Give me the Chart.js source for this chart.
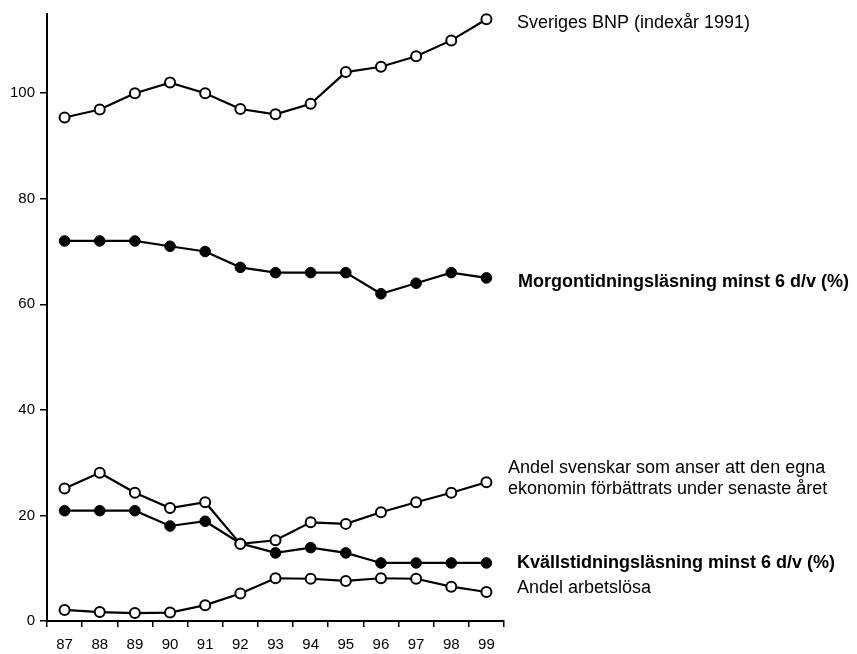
<!DOCTYPE html>
<html>
<head>
<meta charset="utf-8">
<script src="https://cdn.jsdelivr.net/npm/chart.js@4/dist/chart.umd.min.js"></script>
<style>
  html, body { margin: 0; padding: 0; background: #fff; }
  canvas { display: block; }
</style>
</head>
<body>
<canvas id="chart" width="857" height="654"></canvas>
<script>
// Years 1987-1999
const years = ["87", "88", "89", "90", "91", "92", "93", "94", "95", "96", "97", "98", "99"];

const bnp = [95.4, 96.9, 100, 102, 100, 97, 96, 98, 104, 105, 107, 110, 114];
const morgon = [72, 72, 72, 71, 70, 67, 66, 66, 66, 62, 64, 66, 65];
const ekonomi = [25.1, 28.1, 24.3, 21.4, 22.5, 14.6, 15.3, 18.7, 18.4, 20.6, 22.5, 24.3, 26.3];
const kvall = [20.9, 20.9, 20.9, 18, 18.9, 14.7, 12.9, 13.9, 12.9, 11, 11, 11, 11];
const arbetslosa = [2.1, 1.7, 1.5, 1.6, 3.0, 5.2, 8.1, 8.0, 7.6, 8.1, 8.0, 6.5, 5.5];

const yTicks = [0, 20, 40, 60, 80, 100];

const FONT = '"Liberation Sans", Arial, Helvetica, sans-serif';

const openPoint = { pointBackgroundColor: "#fff", pointBorderColor: "#000", pointBorderWidth: 2, pointRadius: 5 };
const filledPoint = { pointBackgroundColor: "#000", pointBorderColor: "#000", pointBorderWidth: 1, pointRadius: 5.3 };

const series = (data, point, tag) => ({
  data,
  borderColor: "#000",
  borderWidth: 2.2,
  tension: 0,
  ...point,
  tag,
});

// text beside the plot, anchored at a value on the y scale
const sideLabels = {
  id: "sideLabels",
  afterDatasetsDraw(chart) {
    const { ctx, chartArea, scales } = chart;
    chart.data.datasets.forEach((ds) => {
      const t = ds.tag;
      ctx.save();
      ctx.fillStyle = "#000";
      ctx.font = (t.bold ? "bold " : "") + "18px " + FONT;
      ctx.textBaseline = "middle";
      ctx.textAlign = "left";
      t.lines.forEach((line, i) => {
        ctx.fillText(line, chartArea.right + t.dx, scales.y.getPixelForValue(t.at[i]));
      });
      ctx.restore();
    });
  },
};

new Chart(document.getElementById("chart"), {
  type: "line",
  data: {
    labels: years,
    datasets: [
      series(bnp, openPoint, { lines: ["Sveriges BNP (indexår 1991)"], at: [113.3], dx: 13 }),
      series(morgon, filledPoint, { lines: ["Morgontidningsläsning minst 6 d/v (%)"], at: [64.3], dx: 14, bold: true }),
      series(ekonomi, openPoint, {
        lines: ["Andel svenskar som anser att den egna", "ekonomin förbättrats under senaste året"],
        at: [28.9, 25.0],
        dx: 4,
      }),
      series(kvall, filledPoint, { lines: ["Kvällstidningsläsning minst 6 d/v (%)"], at: [11.0], dx: 13, bold: true }),
      series(arbetslosa, openPoint, { lines: ["Andel arbetslösa"], at: [6.2], dx: 13 }),
    ],
  },
  options: {
    responsive: false,
    animation: false,
    clip: false,
    layout: { padding: { top: 12, right: 353, left: 0, bottom: 0 } },
    plugins: { legend: { display: false }, tooltip: { enabled: false } },
    scales: {
      x: {
        offset: true,
        grid: { offset: true, drawOnChartArea: false, color: "#000", lineWidth: 1.5, tickLength: 6 },
        border: { color: "#000", width: 2 },
        ticks: { color: "#000", font: { family: FONT, size: 15 }, padding: 9, maxRotation: 0 },
        afterFit: (s) => { s.height = 33; },
      },
      y: {
        min: 0,
        max: 115,
        afterBuildTicks: (s) => { s.ticks = yTicks.map((v) => ({ value: v })); },
        grid: { drawOnChartArea: false, color: "#000", lineWidth: 1.5, tickLength: 7 },
        border: { color: "#000", width: 2 },
        ticks: { color: "#000", font: { family: FONT, size: 15 }, padding: 5 },
        afterFit: (s) => { s.width = 47; },
      },
    },
  },
  plugins: [sideLabels],
});
</script>
</body>
</html>
